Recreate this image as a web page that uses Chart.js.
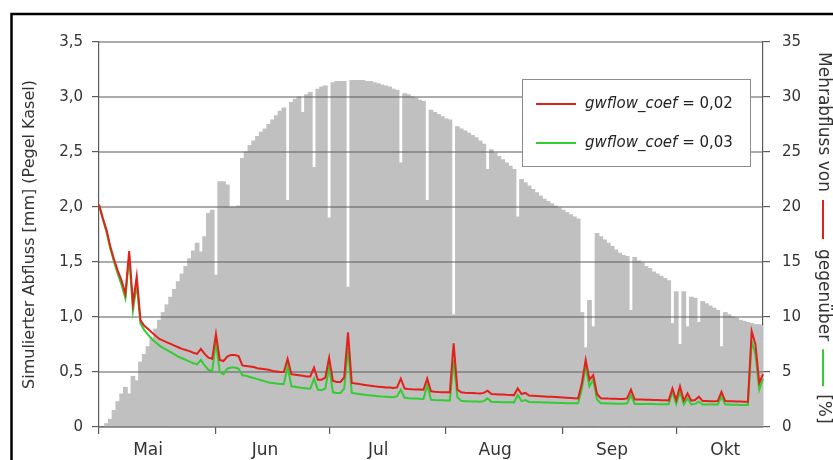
<!DOCTYPE html>
<html><head><meta charset="utf-8">
<script src="https://cdn.jsdelivr.net/npm/chart.js@4.4.1/dist/chart.umd.min.js"></script>
<style>html,body{margin:0;padding:0;background:#fff;}#wrap{position:relative;width:833px;height:460px;}</style>
</head><body><div id="wrap"><canvas id="c" width="833" height="460"></canvas></div>
<script>
// ---- categories ----
const monthNames = ['Mai', 'Jun', 'Jul', 'Aug', 'Sep', 'Okt'];
const monthDays = [31, 30, 31, 31, 30, 24];
const monthLabelDay = 14;
const leftTickLabels = ['0', '0,5', '1,0', '1,5', '2,0', '2,5', '3,0', '3,5'];
const rightTickLabels = ['0', '5', '10', '15', '20', '25', '30', '35'];
const seriesNames = ['gwflow_coef', ' = 0,02', ' = 0,03'];
const leftTitle = 'Simulierter Abfluss [mm] (Pegel Kasel)';
const rightTitleParts = ['Mehrabfluss von', 'gegenüber', '[%]'];

// ---- series: Mehrabfluss [%] (bars, right axis) ----
const mehrabfluss = [
  0, 0, 0.3, 0.7, 1.5, 2.3, 3.0, 3.6, 3.0, 4.6,
  4.2, 5.9, 6.6, 7.3, 8.1, 8.9, 9.7, 10.4, 11.1, 11.8,
  12.5, 13.2, 13.9, 14.6, 15.3, 16.0, 16.7, 15.9, 17.3, 19.4,
  19.7, 13.8, 22.3, 22.3, 22.0, 20.0, 20.0, 20.1, 24.4, 25.0,
  25.6, 26.0, 26.4, 26.8, 27.1, 27.5, 27.9, 28.3, 28.7, 29.0,
  20.6, 29.5, 29.8, 30.0, 28.6, 30.2, 30.4, 23.6, 30.7, 30.9,
  31.0, 19.0, 31.3, 31.4, 31.4, 31.4, 12.7, 31.5, 31.5, 31.5,
  31.5, 31.4, 31.4, 31.3, 31.2, 31.1, 31.0, 30.9, 30.7, 30.6,
  24.0, 30.3, 30.2, 30.0, 29.9, 29.7, 29.6, 20.6, 28.8, 28.6,
  28.4, 28.2, 28.0, 27.9, 10.2, 27.3, 27.1, 26.9, 26.7, 26.5,
  26.3, 26.0, 25.7, 23.4, 25.2, 24.9, 24.6, 24.3, 24.0, 23.7,
  23.4, 19.1, 22.5, 22.2, 21.9, 21.6, 21.3, 21.0, 20.7, 20.5,
  20.3, 20.1, 19.9, 19.7, 19.5, 19.3, 19.1, 18.9, 10.4, 7.2,
  11.5, 9.1, 17.6, 17.3, 17.0, 16.7, 16.4, 16.1, 15.8, 15.6,
  15.5, 10.6, 15.4, 15.1, 14.9, 14.6, 14.4, 14.1, 13.9, 13.7,
  13.5, 13.3, 9.4, 12.3, 7.5, 12.3, 9.1, 11.8, 11.7, 9.5,
  11.4, 11.2, 11.0, 10.8, 10.6, 7.3, 10.4, 10.2, 10.0, 9.9,
  9.7, 9.6, 9.5, 9.4, 9.3, 9.3, 9.2
];

// ---- series: simulated discharge gwflow_coef = 0,02 [mm] ----
const abfluss002 = [
  2.02, 1.90, 1.79, 1.64, 1.52, 1.42, 1.33, 1.21, 1.60, 1.12,
  1.37, 0.97, 0.92, 0.89, 0.86, 0.83, 0.80, 0.785, 0.77, 0.755,
  0.74, 0.725, 0.71, 0.70, 0.69, 0.675, 0.665, 0.71, 0.665, 0.63,
  0.62, 0.845, 0.61, 0.60, 0.64, 0.655, 0.655, 0.645, 0.56, 0.555,
  0.55, 0.545, 0.535, 0.53, 0.525, 0.52, 0.51, 0.505, 0.50, 0.50,
  0.62, 0.48, 0.475, 0.47, 0.465, 0.46, 0.46, 0.54, 0.43, 0.43,
  0.45, 0.63, 0.42, 0.41, 0.41, 0.45, 0.86, 0.40, 0.395, 0.39,
  0.385, 0.38, 0.375, 0.37, 0.367, 0.364, 0.36, 0.358, 0.355, 0.36,
  0.44, 0.35, 0.345, 0.343, 0.342, 0.34, 0.338, 0.44, 0.325, 0.32,
  0.318, 0.317, 0.316, 0.315, 0.76, 0.34, 0.315, 0.312, 0.31, 0.308,
  0.306, 0.305, 0.31, 0.33, 0.30, 0.298, 0.296, 0.295, 0.293, 0.292,
  0.29, 0.35, 0.30, 0.31, 0.286, 0.284, 0.282, 0.28, 0.278, 0.276,
  0.274, 0.272, 0.27, 0.268, 0.266, 0.264, 0.262, 0.26, 0.40, 0.61,
  0.43, 0.47, 0.30, 0.262, 0.26, 0.258, 0.257, 0.256, 0.255, 0.255,
  0.26, 0.34, 0.25, 0.25, 0.249, 0.248, 0.247, 0.246, 0.245, 0.244,
  0.243, 0.242, 0.35, 0.245, 0.37, 0.24, 0.305, 0.24, 0.245, 0.275,
  0.236, 0.236, 0.235, 0.235, 0.236, 0.32, 0.236, 0.234, 0.233, 0.232,
  0.231, 0.23, 0.23, 0.87, 0.75, 0.40, 0.48
];

// ---- series: simulated discharge gwflow_coef = 0,03 [mm] ----
const abfluss003 = [
  2.02, 1.89, 1.77, 1.62, 1.50, 1.39, 1.29, 1.17, 1.55, 1.06,
  1.30, 0.94, 0.88, 0.84, 0.80, 0.77, 0.74, 0.72, 0.70, 0.68,
  0.66, 0.64, 0.625, 0.61, 0.595, 0.58, 0.57, 0.61, 0.56, 0.52,
  0.51, 0.78, 0.50, 0.48, 0.53, 0.54, 0.54, 0.53, 0.47, 0.465,
  0.455, 0.445, 0.435, 0.425, 0.415, 0.405, 0.40, 0.395, 0.39, 0.39,
  0.55, 0.37, 0.365, 0.36, 0.355, 0.35, 0.35, 0.44, 0.34, 0.335,
  0.35, 0.55, 0.315, 0.31, 0.31, 0.35, 0.72, 0.31, 0.305, 0.30,
  0.295, 0.29, 0.287, 0.284, 0.28, 0.277, 0.275, 0.273, 0.27, 0.28,
  0.34, 0.265, 0.262, 0.26, 0.258, 0.256, 0.255, 0.38, 0.248, 0.245,
  0.244, 0.243, 0.242, 0.241, 0.61, 0.27, 0.238, 0.235, 0.233, 0.232,
  0.231, 0.23, 0.235, 0.26, 0.23, 0.228, 0.227, 0.226, 0.225, 0.225,
  0.224, 0.29, 0.235, 0.245, 0.228, 0.226, 0.225, 0.224, 0.223, 0.222,
  0.221, 0.22, 0.219, 0.218, 0.217, 0.216, 0.216, 0.215, 0.35, 0.55,
  0.37, 0.43, 0.25, 0.216, 0.215, 0.214, 0.213, 0.212, 0.212, 0.211,
  0.215, 0.29, 0.21, 0.21, 0.209, 0.209, 0.208, 0.208, 0.207, 0.207,
  0.206, 0.206, 0.32, 0.21, 0.32, 0.205, 0.26, 0.205, 0.21, 0.23,
  0.205, 0.205, 0.204, 0.204, 0.205, 0.275, 0.205, 0.204, 0.203, 0.202,
  0.201, 0.20, 0.20, 0.78, 0.66, 0.34, 0.44
];

// ---- build category table ----
const dayLabels = [];
const dayOfMonth = [];
const monthOf = [];
monthNames.forEach((m, mi) => {
  for (let d = 1; d <= monthDays[mi]; d++) { dayLabels.push(d + '. ' + m); dayOfMonth.push(d); monthOf.push(m); }
});

const FONT = "'DejaVu Sans', 'Liberation Sans', sans-serif";
const RED = '#e3201b';
const GREEN = '#33cc33';
const GRID = '#5a5a5a';
const TXT = '#333333';

const overlay = {
  id: 'overlay',
  beforeDraw(chart) {
    const c = chart.ctx;
    c.save(); c.fillStyle = '#fff'; c.fillRect(0, 0, chart.width, chart.height); c.restore();
  },
  afterDatasetDraw(chart, args) {
    if (args.index !== 0) return;
    const c = chart.ctx, a = chart.chartArea, s = chart.scales.y;
    c.save();
    c.strokeStyle = GRID; c.lineWidth = 1.2;
    s.ticks.forEach(t => {
      const y = s.getPixelForValue(t.value);
      c.beginPath(); c.moveTo(a.left, y); c.lineTo(a.right, y); c.stroke();
    });
    c.restore();
  },
  afterDraw(chart) {
    const c = chart.ctx, a = chart.chartArea;
    c.save();
    // outer frame
    c.strokeStyle = '#000'; c.lineWidth = 2.5;
    c.strokeRect(11.5, 14, 1000, 1000);
    // legend
    const lx = 522, ly = 79, lw = 228, lh = 87;
    c.fillStyle = '#fff'; c.fillRect(lx, ly, lw, lh);
    c.strokeStyle = '#8c8c8c'; c.lineWidth = 1; c.strokeRect(lx + 0.5, ly + 0.5, lw, lh);
    const rows = [[RED, seriesNames[1], 104], [GREEN, seriesNames[2], 143]];
    rows.forEach(([col, suffix, y]) => {
      c.strokeStyle = col; c.lineWidth = 2;
      c.beginPath(); c.moveTo(536, y); c.lineTo(576, y); c.stroke();
      c.fillStyle = '#222'; c.textBaseline = 'middle'; c.textAlign = 'left';
      c.font = 'italic 15px ' + FONT;
      c.fillText(seriesNames[0], 585, y);
      const w = c.measureText(seriesNames[0]).width;
      c.font = '15px ' + FONT;
      c.fillText(suffix, 585 + w, y);
    });
    // left title
    c.fillStyle = TXT; c.font = '16px ' + FONT;
    c.save(); c.translate(30, (a.top + a.bottom) / 2); c.rotate(-Math.PI / 2);
    c.textAlign = 'center'; c.textBaseline = 'middle';
    c.fillText(leftTitle, 0, 0); c.restore();
    // right title with coloured line keys
    c.save(); c.translate(823, 52); c.rotate(Math.PI / 2);
    c.font = '17px ' + FONT; c.textAlign = 'left'; c.textBaseline = 'middle'; c.fillStyle = TXT;
    let x = 0;
    c.fillText(rightTitleParts[0], x, 0); x += c.measureText(rightTitleParts[0]).width + 8;
    c.strokeStyle = RED; c.lineWidth = 2; c.beginPath(); c.moveTo(x, 0); c.lineTo(x + 39, 0); c.stroke(); x += 39 + 10;
    c.fillText(rightTitleParts[1], x, 0); x += c.measureText(rightTitleParts[1]).width + 8;
    c.strokeStyle = GREEN; c.beginPath(); c.moveTo(x, 0); c.lineTo(x + 37, 0); c.stroke(); x += 37 + 8;
    c.fillText(rightTitleParts[2], x, 0);
    c.restore();
    c.restore();
  }
};

new Chart(document.getElementById('c'), {
  type: 'bar',
  data: {
    labels: dayLabels,
    datasets: [
      { type: 'bar', label: 'Mehrabfluss [%]', data: mehrabfluss, yAxisID: 'y1', backgroundColor: '#c0c0c0',
        borderWidth: 0, barPercentage: 1, categoryPercentage: 1, inflateAmount: 0.5, order: 3 },
      { type: 'line', label: seriesNames[0] + seriesNames[2], data: abfluss003, yAxisID: 'y', borderColor: GREEN,
        borderWidth: 2, pointRadius: 0, tension: 0, order: 2 },
      { type: 'line', label: seriesNames[0] + seriesNames[1], data: abfluss002, yAxisID: 'y', borderColor: RED,
        borderWidth: 2, pointRadius: 0, tension: 0, order: 1 }
    ]
  },
  options: {
    responsive: false,
    animation: false,
    devicePixelRatio: 1,
    layout: { padding: { top: 42, left: 0, right: 0, bottom: 0 } },
    plugins: { legend: { display: false }, tooltip: { enabled: false } },
    scales: {
      x: {
        type: 'category', offset: false,
        grid: { offset: false, drawOnChartArea: false, drawTicks: true, tickLength: 7, lineWidth: 1.2,
          tickColor: ctx => (dayOfMonth[ctx.index] === 1 ? GRID : 'rgba(0,0,0,0)') },
        border: { display: true, color: GRID, width: 1.2 },
        ticks: { autoSkip: false, maxRotation: 0, minRotation: 0, padding: 6, color: TXT,
          font: { family: FONT, size: 17 },
          callback: (v, i) => (dayOfMonth[i] === monthLabelDay ? monthOf[i] : '') },
        afterFit: s => { s.height = 33; }
      },
      y: {
        position: 'left', min: 0, max: 3.5,
        ticks: { stepSize: 0.5, padding: 9, color: TXT, font: { family: FONT, size: 15 },
          callback: (v, i) => leftTickLabels[i] },
        grid: { drawOnChartArea: false, drawTicks: true, tickLength: 7, tickColor: GRID, lineWidth: 1.2 },
        border: { display: true, color: GRID, width: 1.2 },
        afterFit: s => { s.width = 99; }
      },
      y1: {
        position: 'right', min: 0, max: 35,
        ticks: { stepSize: 5, padding: 12, color: TXT, font: { family: FONT, size: 15 },
          callback: (v, i) => rightTickLabels[i] },
        grid: { drawOnChartArea: false, drawTicks: true, tickLength: 7, tickColor: GRID, lineWidth: 1.2 },
        border: { display: true, color: GRID, width: 1.2 },
        afterFit: s => { s.width = 70; }
      }
    }
  },
  plugins: [overlay]
});
</script>
</body></html>
